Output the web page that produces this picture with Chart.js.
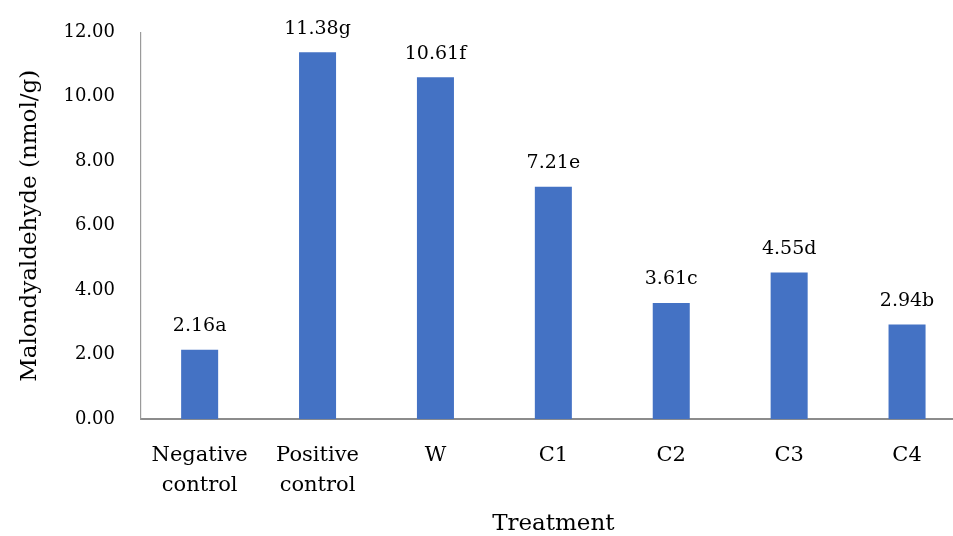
<!DOCTYPE html>
<html>
<head>
<meta charset="utf-8">
<script src="https://cdn.jsdelivr.net/npm/chart.js@4/dist/chart.umd.min.js"></script>
<style>
  html, body { margin: 0; padding: 0; background: #fff; overflow: hidden; }
  #wrap { width: 966px; height: 536px; position: relative; }
</style>
</head>
<body>
<div id="wrap"><canvas id="c"></canvas></div>
<script>
const categories = [["Negative", "control"], ["Positive", "control"], "W", "C1", "C2", "C3", "C4"];
const mdaValues = [2.16, 11.38, 10.61, 7.21, 3.61, 4.55, 2.94];
const groupLetters = ["a", "g", "f", "e", "c", "d", "b"];
const yTicks = [0, 2, 4, 6, 8, 10, 12];

const FONT = "'DejaVu Serif', serif";

const valueLabels = {
  id: 'valueLabels',
  afterDatasetsDraw(chart) {
    const ctx = chart.ctx;
    const meta = chart.getDatasetMeta(0);
    ctx.save();
    ctx.font = "19px " + FONT;
    ctx.fillStyle = '#000';
    ctx.textAlign = 'center';
    ctx.textBaseline = 'alphabetic';
    meta.data.forEach((bar, i) => {
      const txt = mdaValues[i].toFixed(2) + groupLetters[i];
      ctx.fillText(txt, bar.x, bar.y - 18.5);
    });
    ctx.restore();
  }
};

new Chart(document.getElementById('c'), {
  type: 'bar',
  data: {
    labels: categories,
    datasets: [{
      data: mdaValues,
      backgroundColor: '#4472C4',
      borderWidth: 0,
      barPercentage: 0.314,
      categoryPercentage: 1.0
    }]
  },
  options: {
    responsive: true,
    maintainAspectRatio: false,
    animation: false,
    devicePixelRatio: 1,
    layout: { padding: { top: 32.3, left: 0, right: 0, bottom: 0 } },
    plugins: { legend: { display: false }, tooltip: { enabled: false } },
    scales: {
      x: {
        grid: { display: false, drawTicks: false },
        border: { display: true, color: '#8c8c8c', width: 2 },
        ticks: {
          color: '#000',
          font: { family: FONT, size: 21, lineHeight: 30 / 21 },
          padding: 21,
          maxRotation: 0,
          autoSkip: false
        },
        title: {
          display: true,
          text: 'Treatment',
          color: '#000',
          font: { family: FONT, size: 23, lineHeight: 1 },
          padding: 0
        },
        afterFit(scale) { scale.height = 536 - 419.3; scale.paddingLeft = 0; scale.paddingRight = 0; }
      },
      y: {
        min: 0,
        max: 12,
        afterBuildTicks(scale) { scale.ticks = yTicks.map(v => ({ value: v })); },
        grid: { display: false, drawTicks: false },
        border: { display: true, color: '#9a9a9a', width: 1.2 },
        ticks: {
          color: '#000',
          font: { family: FONT, size: 18 },
          padding: 25.7,
          callback: (v) => Number(v).toFixed(2)
        },
        title: {
          display: true,
          text: 'Malondyaldehyde (nmol/g)',
          color: '#000',
          font: { family: FONT, size: 23, lineHeight: 1 },
          padding: { top: 18.5, bottom: 0 }
        },
        afterFit(scale) { scale.width = 140.7; scale.paddingTop = 0; scale.paddingBottom = 0; }
      }
    }
  },
  plugins: [valueLabels]
});
</script>
</body>
</html>
